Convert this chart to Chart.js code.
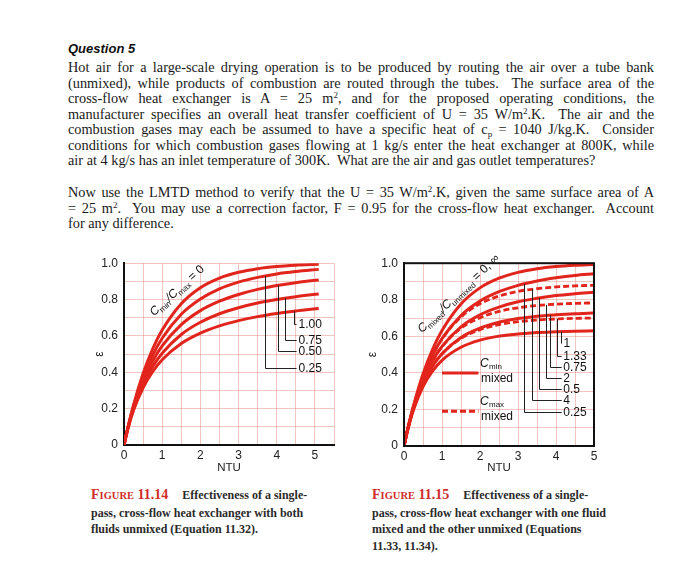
<!DOCTYPE html>
<html lang="en">
<head>
<meta charset="UTF-8">
<title>Question 5 - cross-flow effectiveness</title>
<script src="https://cdn.jsdelivr.net/npm/chart.js"></script>
<style>
  body { margin:0; width:678px; height:581px; background:#fff; position:relative; overflow:hidden; }
  .q { position:absolute; left:68px; top:41px; font: italic bold 13px "Liberation Sans", Arial, sans-serif; color:#111; }
  .txt { position:absolute; left:68px; width:586px; font: 14.3px/15.5px "Liberation Serif", "Times New Roman", serif; color:#1a1a1a; }
  .txt span { display:block; text-align:justify; text-align-last:justify; }
  .txt span.last { text-align-last:left; }
  .txt sup { font-size:9px; line-height:0; vertical-align:5px; }
  .txt sub { font-size:9px; line-height:0; vertical-align:-3px; }
  .cap { position:absolute; font: bold 12px/16.5px "Liberation Serif", "Times New Roman", serif; color:#2a2a2a; }
  .fig { color:#cf2e2a; font-size:14px; margin-right:11px; }
  .fig .sc { font-size:10.5px; }
  canvas { position:absolute; }
</style>
</head>
<body>
<div class="q">Question 5</div>
<div class="txt" style="top:60px">
  <span>Hot air for a large-scale drying operation is to be produced by routing the air over a tube bank</span>
  <span>(unmixed), while products of combustion are routed through the tubes.&nbsp; The surface area of the</span>
  <span>cross-flow heat exchanger is A = 25 m<sup>2</sup>, and for the proposed operating conditions, the</span>
  <span>manufacturer specifies an overall heat transfer coefficient of U = 35 W/m<sup>2</sup>.K.&nbsp; The air and the</span>
  <span>combustion gases may each be assumed to have a specific heat of c<sub>p</sub> = 1040 J/kg.K.&nbsp; Consider</span>
  <span>conditions for which combustion gases flowing at 1 kg/s enter the heat exchanger at 800K, while</span>
  <span class="last">air at 4 kg/s has an inlet temperature of 300K.&nbsp; What are the air and gas outlet temperatures?</span>
</div>
<div class="txt" style="top:185px">
  <span>Now use the LMTD method to verify that the U = 35 W/m<sup>2</sup>.K, given the same surface area of A</span>
  <span>= 25 m<sup>2</sup>.&nbsp; You may use a correction factor, F = 0.95 for the cross-flow heat exchanger.&nbsp; Account</span>
  <span class="last">for any difference.</span>
</div>

<canvas id="chartBoth" width="265" height="228" style="left:80px;top:250px"></canvas>
<canvas id="chartOne" width="250" height="228" style="left:360px;top:250px"></canvas>

<div class="cap" style="left:91px;top:487px">
  <span class="fig">F<span class="sc">IGURE</span> 11.14</span> Effectiveness of a single-<br>
  pass, cross-flow heat exchanger with both<br>
  fluids unmixed (Equation 11.32).
</div>
<div class="cap" style="left:372px;top:487px">
  <span class="fig">F<span class="sc">IGURE</span> 11.15</span> Effectiveness of a single-<br>
  pass, cross-flow heat exchanger with one fluid<br>
  mixed and the other unmixed (Equations<br>
  11.33, 11.34).
</div>

<script>
  // Figure 11.14 - both fluids unmixed
  const ntuBoth = [0, 0.1, 0.25, 0.5, 0.75, 1, 1.5, 2, 2.5, 3, 3.5, 4, 4.5, 5.1];
  const effBoth0   = [0, 0.095, 0.221, 0.393, 0.528, 0.632, 0.777, 0.865, 0.918, 0.950, 0.970, 0.982, 0.989, 0.994];
  const effBoth025 = [0, 0.093, 0.213, 0.372, 0.493, 0.587, 0.719, 0.803, 0.859, 0.896, 0.922, 0.941, 0.954, 0.966];
  const effBoth050 = [0, 0.092, 0.206, 0.352, 0.461, 0.545, 0.662, 0.739, 0.791, 0.828, 0.856, 0.877, 0.893, 0.908];
  const effBoth075 = [0, 0.090, 0.198, 0.333, 0.431, 0.505, 0.608, 0.675, 0.722, 0.755, 0.781, 0.800, 0.816, 0.831];
  const effBoth100 = [0, 0.088, 0.191, 0.315, 0.403, 0.469, 0.558, 0.615, 0.655, 0.684, 0.706, 0.723, 0.737, 0.751];
  const leaderBothLabels = ['0.25', '0.50', '0.75', '1.00'];
  const leaderBothNtu    = [3.69, 4.03, 4.22, 4.45];
  const leaderBothEps    = [0.425, 0.517, 0.58, 0.664];

  // Figure 11.15 - one fluid mixed
  const ntuOne = [0, 0.1, 0.25, 0.5, 0.75, 1, 1.5, 2, 2.5, 3, 3.5, 4, 4.5, 5];
  const effOne0    = [0, 0.095, 0.221, 0.394, 0.528, 0.632, 0.777, 0.865, 0.918, 0.950, 0.970, 0.982, 0.989, 0.993];
  const effMin025  = [0, 0.094, 0.215, 0.375, 0.495, 0.587, 0.714, 0.793, 0.844, 0.879, 0.903, 0.920, 0.933, 0.942];
  const effMin050  = [0, 0.093, 0.209, 0.358, 0.465, 0.545, 0.652, 0.718, 0.760, 0.789, 0.808, 0.823, 0.833, 0.841];
  const effMin075  = [0, 0.092, 0.204, 0.341, 0.437, 0.505, 0.594, 0.645, 0.677, 0.697, 0.710, 0.718, 0.724, 0.728];
  const effMin100  = [0, 0.091, 0.198, 0.325, 0.410, 0.469, 0.540, 0.579, 0.601, 0.613, 0.621, 0.625, 0.628, 0.630];
  const effMax4    = [0, 0.094, 0.215, 0.375, 0.494, 0.585, 0.706, 0.778, 0.820, 0.846, 0.861, 0.870, 0.876, 0.879];
  const effMax2    = [0, 0.093, 0.209, 0.357, 0.464, 0.542, 0.644, 0.702, 0.736, 0.756, 0.769, 0.776, 0.780, 0.783];
  const effMax133  = [0, 0.092, 0.204, 0.341, 0.436, 0.503, 0.589, 0.636, 0.664, 0.680, 0.689, 0.695, 0.698, 0.700];
  const leaderOneLabels = ['0.25', '4', '0.5', '2', '0.75', '1.33', '1'];
  const leaderOneNtu    = [3.17, 3.36, 3.56, 3.73, 3.84, 4.03, 4.13];
  const leaderOneEps    = [0.184, 0.253, 0.313, 0.371, 0.432, 0.493, 0.566];

  const RED = '#e2251c';
  const GRID = 'rgba(222,120,108,0.42)';
  const SANS = '"Liberation Sans", Arial, sans-serif';

  const pts = (xs, ys) => xs.map((x, i) => ({ x: x, y: ys[i] }));

  function curve(label, xs, ys, dashed) {
    return {
      label: label,
      data: pts(xs, ys),
      borderColor: RED,
      borderWidth: dashed ? 2.8 : 3,
      borderDash: dashed ? [6, 3] : [],
      pointRadius: 0,
      fill: false,
      cubicInterpolationMode: 'monotone'
    };
  }

  // y value of a dataset at a given x (linear between points)
  function yAt(ds, x) {
    const d = ds.data;
    for (let i = 1; i < d.length; i++) {
      if (x <= d[i].x) {
        const t = (x - d[i - 1].x) / (d[i].x - d[i - 1].x);
        return d[i - 1].y + t * (d[i].y - d[i - 1].y);
      }
    }
    return d[d.length - 1].y;
  }

  function richText(ctx, runs, x, y, angle) {
    ctx.save();
    ctx.translate(x, y);
    ctx.rotate(angle);
    ctx.textBaseline = 'alphabetic';
    ctx.textAlign = 'left';
    let w = 0;
    runs.forEach(r => { ctx.font = r.font; w += ctx.measureText(r.t).width; });
    let cx = -w / 2;
    runs.forEach(r => {
      ctx.font = r.font;
      ctx.fillText(r.t, cx, r.dy || 0);
      cx += ctx.measureText(r.t).width;
    });
    ctx.restore();
  }

  const big = 'italic 12px ' + SANS;
  const norm = '12px ' + SANS;
  const small = '8px ' + SANS;

  const annotate = {
    id: 'annotate',
    afterDatasetsDraw(chart, args, opts) {
      const ctx = chart.ctx;
      const xs = chart.scales.x, ys = chart.scales.y;
      const area = chart.chartArea;
      ctx.save();
      if (opts.box) {
        ctx.strokeStyle = '#111';
        ctx.lineWidth = 2;
        ctx.strokeRect(area.left, area.top, area.right - area.left, area.bottom - area.top);
      }
      // leader lines to the ratio labels
      ctx.strokeStyle = '#222';
      ctx.lineWidth = 1;
      ctx.fillStyle = '#111';
      ctx.font = '12px ' + SANS;
      ctx.textBaseline = 'middle';
      ctx.textAlign = 'left';
      opts.labels.forEach((lab, i) => {
        const ds = chart.data.datasets.find(d => d.label === lab);
        const px = Math.round(xs.getPixelForValue(opts.ntu[i])) + 0.5;
        const top = ys.getPixelForValue(yAt(ds, opts.ntu[i]));
        const bot = Math.round(ys.getPixelForValue(opts.eps[i])) + 0.5;
        const endX = xs.getPixelForValue(opts.lineEnd);
        ctx.beginPath();
        ctx.moveTo(px, top);
        ctx.lineTo(px, bot);
        ctx.lineTo(Math.max(endX, px), bot);
        ctx.stroke();
        ctx.fillText(lab, Math.max(xs.getPixelForValue(opts.textAt), px + 2), bot);
      });
      // rotated curve-family label
      const a = opts.title;
      ctx.fillStyle = '#111';
      richText(ctx, a.runs, xs.getPixelForValue(a.x), ys.getPixelForValue(a.y), a.angle);
      // legend for solid / dashed
      if (opts.legend) {
        opts.legend.forEach(l => {
          ctx.strokeStyle = RED;
          ctx.lineWidth = 3;
          ctx.setLineDash(l.dash);
          ctx.beginPath();
          ctx.moveTo(xs.getPixelForValue(1.0), ys.getPixelForValue(l.y));
          ctx.lineTo(xs.getPixelForValue(1.96), ys.getPixelForValue(l.y));
          ctx.stroke();
          ctx.setLineDash([]);
          const tx = xs.getPixelForValue(2.0);
          ctx.fillStyle = '#111';
          ctx.textAlign = 'left';
          ctx.textBaseline = 'middle';
          ctx.font = big;
          ctx.fillText('C', tx, ys.getPixelForValue(l.y + 0.05));
          ctx.font = small;
          ctx.fillText(l.sub, tx + 9, ys.getPixelForValue(l.y + 0.035));
          ctx.font = norm;
          ctx.fillText('mixed', tx + 1, ys.getPixelForValue(l.y - 0.03));
        });
      }
      ctx.restore();
    }
  };

  function scales(xMax, yAxisW, xAxisH, yTitlePad) {
    return {
      x: {
        type: 'linear', min: 0, max: xMax,
        afterFit: s => { s.height = xAxisH; },
        border: { display: true, color: '#111', width: 2 },
        grid: { color: GRID, lineWidth: 1, drawTicks: false },
        ticks: {
          stepSize: 0.5, autoSkip: false, maxRotation: 0, padding: 3,
          color: '#222', font: { family: SANS, size: 12 },
          callback: v => Number.isInteger(v) ? String(v) : ''
        },
        title: { display: true, text: 'NTU', color: '#222', font: { family: SANS, size: 11.5 }, padding: { top: 0, bottom: 3 } }
      },
      y: {
        min: 0, max: 1,
        afterFit: s => { s.width = yAxisW; },
        border: { display: true, color: '#111', width: 2 },
        grid: { color: GRID, lineWidth: 1, drawTicks: false },
        ticks: {
          stepSize: 0.1, autoSkip: false, padding: 6,
          color: '#222', font: { family: SANS, size: 12 },
          callback: v => {
            const k = Math.round(v * 10);
            if (k % 2 !== 0) return '';
            return k === 0 ? '0' : (k / 10).toFixed(1);
          }
        },
        title: { display: true, text: 'ε', color: '#222', font: { family: SANS, size: 12 }, padding: { top: yTitlePad, bottom: 0 } }
      }
    };
  }

  new Chart(document.getElementById('chartBoth'), {
    type: 'line',
    data: {
      datasets: [
        curve('0', ntuBoth, effBoth0),
        curve('0.25', ntuBoth, effBoth025),
        curve('0.50', ntuBoth, effBoth050),
        curve('0.75', ntuBoth, effBoth075),
        curve('1.00', ntuBoth, effBoth100)
      ]
    },
    options: {
      responsive: false,
      animation: false,
      layout: { padding: { top: 9, right: 11, left: 0, bottom: 0 } },
      scales: scales(5.5, 44, 33, 12),
      plugins: {
        legend: { display: false },
        tooltip: { enabled: false },
        annotate: {
          box: false,
          labels: leaderBothLabels, ntu: leaderBothNtu, eps: leaderBothEps,
          lineEnd: 4.52, textAt: 4.57,
          title: {
            x: 1.45, y: 0.835, angle: -0.74,
            runs: [
              { t: 'C', font: big },
              { t: 'min', font: small, dy: 3 },
              { t: '/C', font: big },
              { t: 'max', font: small, dy: 3 },
              { t: ' = 0', font: norm }
            ]
          }
        }
      }
    },
    plugins: [annotate]
  });

  new Chart(document.getElementById('chartOne'), {
    type: 'line',
    data: {
      datasets: [
        curve('0', ntuOne, effOne0),
        curve('0.25', ntuOne, effMin025),
        curve('0.5', ntuOne, effMin050),
        curve('0.75', ntuOne, effMin075),
        curve('1', ntuOne, effMin100),
        curve('4', ntuOne, effMax4, true),
        curve('2', ntuOne, effMax2, true),
        curve('1.33', ntuOne, effMax133, true)
      ]
    },
    options: {
      responsive: false,
      animation: false,
      layout: { padding: { top: 10, right: 16, left: 0, bottom: 0 } },
      scales: scales(5, 44, 32, 5),
      plugins: {
        legend: { display: false },
        tooltip: { enabled: false },
        annotate: {
          box: true,
          labels: leaderOneLabels, ntu: leaderOneNtu, eps: leaderOneEps,
          lineEnd: 4.15, textAt: 4.19,
          title: {
            x: 1.5, y: 0.82, angle: -0.76,
            runs: [
              { t: 'C', font: big },
              { t: 'mixed', font: small, dy: 3 },
              { t: '/C', font: big },
              { t: 'unmixed', font: small, dy: 3 },
              { t: ' = 0, \u221E', font: norm }
            ]
          },
          legend: [
            { y: 0.40, dash: [], sub: 'min' },
            { y: 0.19, dash: [6, 3], sub: 'max' }
          ]
        }
      }
    },
    plugins: [annotate]
  });
</script>
</body>
</html>
